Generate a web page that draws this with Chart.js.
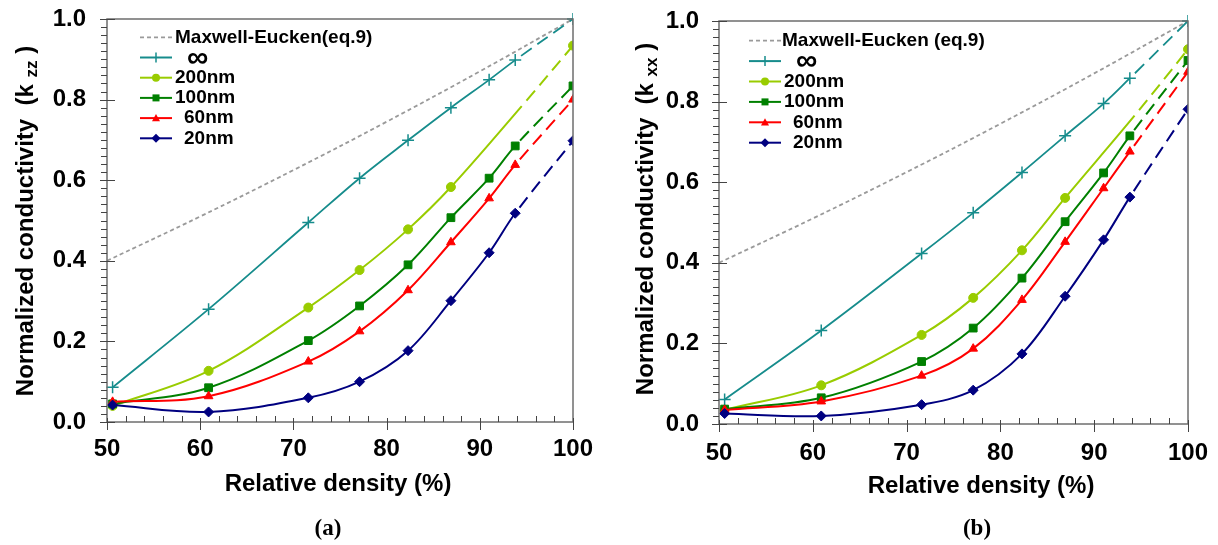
<!DOCTYPE html>
<html><head><meta charset="utf-8">
<script src="https://cdn.jsdelivr.net/npm/chart.js@4.4.1/dist/chart.umd.min.js"></script>
<style>
html,body{margin:0;padding:0;background:#fff;width:1218px;height:545px;overflow:hidden;}
.wrap{position:absolute;top:0;height:545px;}
.cap{position:absolute;font-family:'Liberation Serif','Times New Roman',serif;font-weight:bold;font-size:23px;transform:translate(-50%,-50%);white-space:nowrap;}
</style></head><body>
<div class="wrap" style="left:0;width:600px"><canvas id="ca" width="600" height="545"></canvas></div>
<div class="wrap" style="left:600px;width:618px"><canvas id="cb" width="618" height="545"></canvas></div>
<div class="cap" style="left:328px;top:528px">(a)</div>
<div class="cap" style="left:977px;top:528px">(b)</div>
<script>
// ---------- data ----------
const seriesNamesA = ['Maxwell-Eucken(eq.9)', '\u221E', '200nm', '100nm', '60nm', '20nm'];
const seriesNamesB = ['Maxwell-Eucken (eq.9)', '\u221E', '200nm', '100nm', '60nm', '20nm'];
const xTicks = [50, 60, 70, 80, 90, 100];
const yTicks = [0.0, 0.2, 0.4, 0.6, 0.8, 1.0];

const rhoMaxwell = [50, 60, 70, 80, 90, 100];
const kMaxwellA = [0.40, 0.51, 0.625, 0.745, 0.87, 1.0];
const kMaxwellB = [0.40, 0.51, 0.625, 0.745, 0.87, 1.0];

const rho = [50.6, 60.9, 71.6, 77.1, 82.3, 86.9, 91.0, 93.8, 100];
const rho200A = [50.6, 60.9, 71.6, 77.1, 82.3, 86.9, 94.5, 100];
const rho200B = [50.6, 60.9, 71.6, 77.1, 82.3, 86.9, 94.3, 100];

// (a) k_zz
const kInfA   = [0.086, 0.280, 0.495, 0.605, 0.699, 0.780, 0.849, 0.898, 1.000];
const k200A   = [0.040, 0.127, 0.284, 0.377, 0.478, 0.583, 0.784, 0.934];
const k100A   = [0.045, 0.085, 0.202, 0.288, 0.390, 0.507, 0.605, 0.685, 0.834];
const k60A    = [0.050, 0.064, 0.150, 0.225, 0.327, 0.446, 0.555, 0.638, 0.800];
const k20A    = [0.042, 0.025, 0.060, 0.100, 0.177, 0.301, 0.420, 0.518, 0.698];

// (b) k_xx
const kInfB   = [0.061, 0.232, 0.423, 0.524, 0.624, 0.715, 0.795, 0.858, 1.000];
const k200B   = [0.035, 0.096, 0.221, 0.313, 0.431, 0.561, 0.765, 0.930];
const k100B   = [0.037, 0.065, 0.155, 0.238, 0.362, 0.502, 0.623, 0.715, 0.902];
const k60B    = [0.035, 0.056, 0.120, 0.187, 0.308, 0.452, 0.585, 0.676, 0.874];
const k20B    = [0.026, 0.020, 0.048, 0.084, 0.174, 0.317, 0.457, 0.563, 0.781];

// index of the unmarked 200nm point (solid line end, no marker)
const unmarked200 = 6;

// ---------- styling ----------
const FONT = "'Liberation Sans', Arial, sans-serif";
const C = {me:'#9a9a9a', inf:'#168c8c', n200:'#99cc00', n100:'#008000', n60:'#ff0000', n20:'#000080'};

function pts(xs, ys){ return ys.map((y,i)=>({x:xs[i], y:y})); }

function dashLast(n){
  return {
    borderDash: c => c.p1DataIndex === n-1 ? [13,7] : undefined,
    borderDashOffset: c => c.p1DataIndex === n-1 ? 13 : undefined
  };
}

function series(names, me, inf, k200, k100, k60, k20, x200){
  const clip = {left:10, top:10, right:0, bottom:10};
  const base = {fill:false, clip:clip, tension:0.35, cubicInterpolationMode:'default'};
  return [
    Object.assign({}, base, {label:names[0], data:pts(rhoMaxwell, me), borderColor:C.me, borderWidth:1.8,
      borderDash:[4,3], pointRadius:0, order:6, tension:0.4, lg:{style:'none', dash:[4,3]}}),
    Object.assign({}, base, {label:names[1], data:pts(rho, inf), borderColor:C.inf, backgroundColor:C.inf,
      borderWidth:1.8, pointStyle:'cross', pointRadius:6, pointBorderWidth:1.5, order:5,
      segment:dashLast(rho.length), lg:{style:'cross', r:5}}),
    Object.assign({}, base, {label:names[2], data:pts(x200, k200), borderColor:C.n200, backgroundColor:C.n200,
      borderWidth:2, pointStyle:'circle', pointRadius:x200.map((_,i)=> i===unmarked200 ? 0 : 4.5),
      pointBorderWidth:1, order:4, segment:dashLast(x200.length), lg:{style:'circle', r:4}}),
    Object.assign({}, base, {label:names[3], data:pts(rho, k100), borderColor:C.n100, backgroundColor:C.n100,
      borderWidth:2, pointStyle:'rect', pointRadius:5.5, pointBorderWidth:1, order:3,
      segment:dashLast(rho.length), lg:{style:'rect', r:3.5}}),
    Object.assign({}, base, {label:names[4], data:pts(rho, k60), borderColor:C.n60, backgroundColor:C.n60,
      borderWidth:2, pointStyle:'triangle', pointRadius:5, pointBorderWidth:1, order:2,
      segment:dashLast(rho.length), lg:{style:'triangle', r:4}}),
    Object.assign({}, base, {label:names[5], data:pts(rho, k20), borderColor:C.n20, backgroundColor:C.n20,
      borderWidth:2, pointStyle:'rectRot', pointRadius:5, pointBorderWidth:1, order:1,
      segment:dashLast(rho.length), lg:{style:'diamond', r:4.5}})
  ];
}

function marker(ctx, style, x, y, r, color){
  ctx.save(); ctx.fillStyle = color; ctx.strokeStyle = color; ctx.lineWidth = 1.5; ctx.setLineDash([]);
  ctx.beginPath();
  if (style === 'circle'){ ctx.arc(x,y,r,0,Math.PI*2); ctx.fill(); }
  else if (style === 'rect'){ ctx.fillRect(x-r,y-r,2*r,2*r); }
  else if (style === 'triangle'){ ctx.moveTo(x,y-r); ctx.lineTo(x+r,y+r*0.8); ctx.lineTo(x-r,y+r*0.8); ctx.closePath(); ctx.fill(); }
  else if (style === 'diamond'){ ctx.moveTo(x,y-r); ctx.lineTo(x+r,y); ctx.lineTo(x,y+r); ctx.lineTo(x-r,y); ctx.closePath(); ctx.fill(); }
  else if (style === 'cross'){ ctx.moveTo(x,y-r); ctx.lineTo(x,y+r); ctx.stroke(); }
  ctx.restore();
}

const decor = {
  id:'decor',
  afterDatasetsDraw(chart, args, o){
    const ctx = chart.ctx, a = chart.chartArea, xs = chart.scales.x, ys = chart.scales.y;
    ctx.save();
    // frame
    ctx.strokeStyle = '#6e6e6e'; ctx.lineWidth = 1.5;
    ctx.strokeRect(a.left, a.top, a.right-a.left, a.bottom-a.top);
    // tick marks
    ctx.lineWidth = 1; ctx.strokeStyle = '#444';
    for (let i = 0; i <= 50; i++){
      const y = Math.round(ys.getPixelForValue(i/50)) + 0.5;
      const major = i % 10 === 0;
      ctx.beginPath(); ctx.moveTo(a.left - (major ? 7 : 6), y); ctx.lineTo(a.left + (major ? 8 : 0), y); ctx.stroke();
    }
    for (let v = xs.min; v <= xs.max; v += 2){
      const x = Math.round(xs.getPixelForValue(v)) + 0.5;
      const major = v % 10 === 0;
      ctx.beginPath(); ctx.moveTo(x, a.bottom + (major ? 8 : 0)); ctx.lineTo(x, a.bottom - (major ? 4 : 6)); ctx.stroke();
    }
    // y title with subscript
    ctx.fillStyle = '#000'; ctx.textBaseline = 'alphabetic'; ctx.textAlign = 'left';
    const t = o.yTitle;
    ctx.translate(t.x, t.y); ctx.rotate(-Math.PI/2);
    const f1 = 'bold 24px ' + FONT, f2 = 'bold 17px ' + FONT;
    ctx.font = f1; const w1 = ctx.measureText(t.main).width, w3 = ctx.measureText(t.end).width;
    ctx.font = f2; const w2 = ctx.measureText(t.sub).width;
    let s = -(w1 + w2 + w3)/2;
    ctx.font = f1; ctx.fillText(t.main, s, 0);
    ctx.font = f2; ctx.fillText(t.sub, s + w1, 4);
    ctx.font = f1; ctx.fillText(t.end, s + w1 + w2, 0);
    ctx.restore();
    // x title
    ctx.save();
    ctx.font = 'bold 24px ' + FONT; ctx.fillStyle = '#000'; ctx.textAlign = 'center'; ctx.textBaseline = 'middle';
    ctx.fillText(o.xTitle.text, o.xTitle.x, o.xTitle.y);
    // legend
    const L = o.legend;
    chart.data.datasets.forEach((d, i) => {
      const y = L.y0 + i*L.dy;
      ctx.save();
      ctx.strokeStyle = d.borderColor; ctx.lineWidth = i === 0 ? 1.8 : 2;
      ctx.setLineDash(d.lg.dash || []);
      ctx.beginPath(); ctx.moveTo(L.x0, y); ctx.lineTo(L.x1, y); ctx.stroke();
      ctx.restore();
      if (d.lg.style !== 'none') marker(ctx, d.lg.style, (L.x0+L.x1)/2, y, d.lg.r, d.borderColor);
      ctx.fillStyle = '#000'; ctx.textAlign = 'left'; ctx.textBaseline = 'middle';
      ctx.font = (i === 1 ? 'bold 30px ' : 'bold 19px ') + FONT;
      ctx.fillText(d.label, L.tx[i], y + (i === 1 ? 1 : 0));
    });
    ctx.restore();
  }
};

function makeChart(id, datasets, lay){
  return new Chart(document.getElementById(id), {
    type:'line',
    data:{datasets:datasets},
    plugins:[decor],
    options:{
      responsive:false, animation:false, devicePixelRatio:1,
      layout:{padding:{left:0, top:lay.top, right:lay.right, bottom:0}},
      plugins:{legend:{display:false}, tooltip:{enabled:false}, title:{display:false}, decor:lay.decor},
      scales:{
        x:{type:'linear', min:xTicks[0], max:xTicks[xTicks.length-1],
           afterFit:s=>{s.height = lay.xh; s.paddingLeft = 0; s.paddingRight = 0;},
           afterBuildTicks:s=>{s.ticks = xTicks.map(v=>({value:v}));},
           grid:{display:false, drawTicks:false}, border:{display:false},
           ticks:{padding:lay.xpad, color:'#000', font:{family:FONT, size:24, weight:'bold'}, maxRotation:0, autoSkip:false}},
        y:{type:'linear', min:yTicks[0], max:yTicks[yTicks.length-1],
           afterFit:s=>{s.width = lay.yw; s.paddingTop = 0; s.paddingBottom = 0;},
           afterBuildTicks:s=>{s.ticks = yTicks.map(v=>({value:v}));},
           grid:{display:false, drawTicks:false}, border:{display:false},
           ticks:{padding:lay.ypad, color:'#000', font:{family:FONT, size:24, weight:'bold'},
                  callback:v=>Number(v).toFixed(1)}}
      }
    }
  });
}

makeChart('ca', series(seriesNamesA, kMaxwellA, kInfA, k200A, k100A, k60A, k20A, rho200A), {
  top:19, right:27, xh:123, yw:107, xpad:13, ypad:21,
  decor:{
    yTitle:{x:33, y:221, main:'Normalized conductivity  (k ', sub:'zz', end:' )'},
    xTitle:{text:'Relative density (%)', x:338, y:484},
    legend:{x0:140, x1:172, y0:37.3, dy:20.2, tx:[175, 187, 175, 175, 184, 184]}
  }
});
makeChart('cb', series(seriesNamesB, kMaxwellB, kInfB, k200B, k100B, k60B, k20B, rho200B), {
  top:21, right:30, xh:121, yw:119, xpad:15, ypad:20,
  decor:{
    yTitle:{x:53, y:219, main:'Normalized conductivity  (k ', sub:'xx', end:' )'},
    xTitle:{text:'Relative density (%)', x:381, y:486},
    legend:{x0:149, x1:181, y0:40.7, dy:20.4, tx:[182, 196, 184, 184, 193, 193]}
  }
});
</script>
</body></html>
